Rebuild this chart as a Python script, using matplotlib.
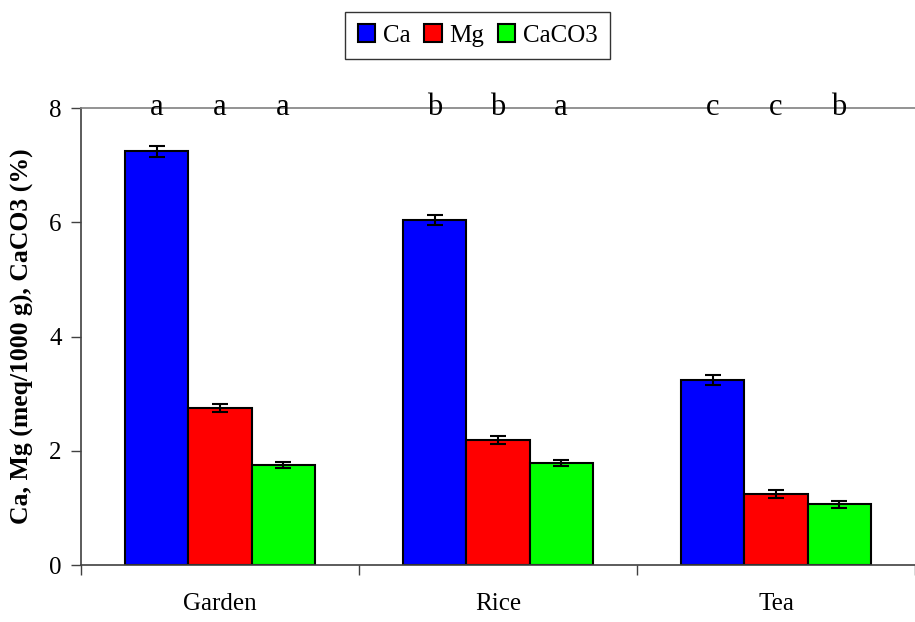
import numpy as np
import matplotlib
matplotlib.use("Agg")
import matplotlib.pyplot as plt

# values
sites = ["Garden", "Rice", "Tea"]
series = ["Ca", "Mg", "CaCO3"]
ca = [7.24, 6.04, 3.24]
mg = [2.75, 2.18, 1.24]
caco3 = [1.75, 1.79, 1.06]
ca_err = [0.09, 0.09, 0.09]
mg_err = [0.07, 0.07, 0.075]
caco3_err = [0.05, 0.05, 0.055]
letters = [["a", "a", "a"], ["b", "b", "a"], ["c", "c", "b"]]

colors = ["#0000ff", "#ff0000", "#00ff00"]

plt.rcParams["font.family"] = ["Liberation Serif", "DejaVu Serif"]

fig = plt.figure(figsize=(9.15, 6.22), dpi=100)
ax = fig.add_axes([0.0885, 0.0916, 0.9115, 0.7347])

x = np.arange(len(sites))
w = 0.227
vals = [ca, mg, caco3]
errs = [ca_err, mg_err, caco3_err]
for i, (name, v, e, c) in enumerate(zip(series, vals, errs, colors)):
    pos = x + (i - 1) * w
    ax.bar(pos, v, width=w, color=c, edgecolor="black", linewidth=1.5, label=name, zorder=2)
    ax.errorbar(pos, v, yerr=e, fmt="none", ecolor="black", elinewidth=1.5,
                capsize=5.5, capthick=1.5, zorder=3)
    for j in range(len(sites)):
        ax.text(pos[j], 7.87, letters[j][i], ha="center", va="baseline", fontsize=22, zorder=4)

ax.set_xlim(-0.5, 2.5)
ax.set_ylim(0, 8)
ax.set_yticks([0, 2, 4, 6, 8])
ax.tick_params(axis="y", labelsize=18, direction="out", length=7, width=1, color="#404040", pad=7)
ax.set_xticks(x)
ax.set_xticklabels(sites, fontsize=18)
ax.tick_params(axis="x", which="major", length=0, pad=20)
ax.set_xticks([-0.5, 0.5, 1.5, 2.5], minor=True)
ax.tick_params(axis="x", which="minor", length=7, width=1, color="#404040", direction="out")

ax.spines["right"].set_visible(False)
ax.spines["top"].set_color("#808080")
ax.spines["top"].set_linewidth(1.2)
for s in ["left", "bottom"]:
    ax.spines[s].set_color("#404040")
    ax.spines[s].set_linewidth(1.2)

ax.set_ylabel("Ca, Mg (meq/1000 g), CaCO3 (%)", fontsize=18.5, fontweight="bold")
ax.yaxis.set_label_coords(-0.056, 0.5)

leg = fig.legend(loc="center", bbox_to_anchor=(0.522, 0.943), ncol=3, fontsize=18,
                 frameon=True, fancybox=False, edgecolor="black", handlelength=0.7,
                 handleheight=0.7, handletextpad=0.3, columnspacing=0.55, borderpad=0.5)
leg.get_frame().set_linewidth(1.0)

fig.savefig("out.png", dpi=100)
